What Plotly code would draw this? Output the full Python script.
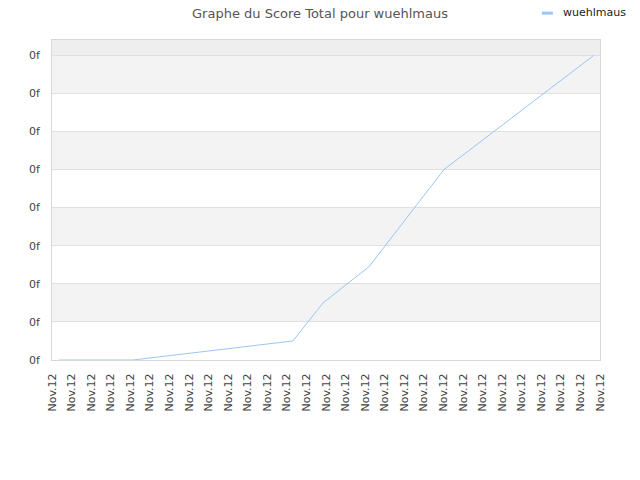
import plotly.graph_objects as go

# score history (x in tick units, y in grid steps)
days = [0.36, 4.14, 12.31, 13.85, 16.2, 20.03, 27.69]
score = [0.0, 0.0, 0.5, 1.5, 2.45, 5.0, 8.0]

tick_pos = list(range(29))
tick_text = ["Nov.12"] * len(tick_pos)
y_ticks = list(range(9))
y_text = ["0f"] * len(y_ticks)

line_color = "#99c6f5"

fig = go.Figure()

# alternating grid bands
for k in y_ticks:
    if k % 2 == 1:
        fig.add_shape(type="rect", xref="paper", yref="y", x0=0, x1=1, y0=k, y1=k + 1,
                      fillcolor="#f3f3f3", line_width=0, layer="below")
fig.add_shape(type="rect", xref="paper", yref="y", x0=0, x1=1, y0=8, y1=8.4,
              fillcolor="#eeeeee", line_width=0, layer="below")

fig.add_trace(go.Scatter(
    x=days, y=score, mode="lines", name="wuehlmaus",
    line=dict(color=line_color, width=1), showlegend=False,
))

# small legend in the top right corner
fig.add_shape(type="line", xref="paper", yref="paper", x0=0.894, x1=0.914,
              y0=1.084, y1=1.084, line=dict(color=line_color, width=3))
fig.add_annotation(text="wuehlmaus", xref="paper", yref="paper", x=0.929, y=1.086,
                   xanchor="left", yanchor="middle", showarrow=False,
                   font=dict(size=11, color="#222"))

fig.update_layout(
    width=640, height=480,
    margin=dict(l=52, r=40, t=40, b=120, autoexpand=False),
    paper_bgcolor="white", plot_bgcolor="white",
    font=dict(family="DejaVu Sans", size=11, color="#444"),
    title=dict(text="Graphe du Score Total pour wuehlmaus", x=0.5, xanchor="center",
               y=0.971, yanchor="middle", font=dict(size=13, color="#555")),
    showlegend=False,
    xaxis=dict(range=[0, 28], tickvals=tick_pos, ticktext=tick_text, tickangle=-90,
               showgrid=False, zeroline=False, showline=True, mirror=True,
               linecolor="#d8d8d8", ticks="", ticklabelstandoff=8),
    yaxis=dict(range=[0, 8.4], tickvals=y_ticks, ticktext=y_text, showgrid=True,
               gridcolor="#e0e0e0", zeroline=False, showline=True, mirror=True,
               linecolor="#d8d8d8", ticks="", ticklabelstandoff=9),
)

fig.write_html("out.html", config={"displayModeBar": False},
               post_script="document.body.style.margin='0';")
